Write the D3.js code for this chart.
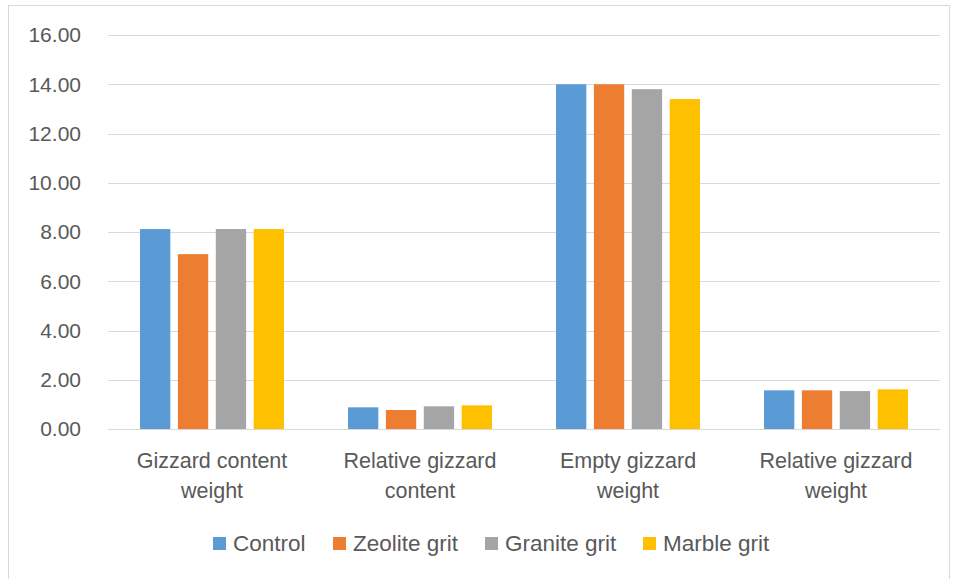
<!DOCTYPE html>
<html>
<head>
<meta charset="utf-8">
<script src="https://cdn.jsdelivr.net/npm/d3@7"></script>
<style>
  body { margin: 0; background: #fff; }
  text { font-family: "Liberation Sans", Arial, sans-serif; fill: #595959; }
</style>
</head>
<body>
<div id="chart"></div>
<script>
// data
var categories = [["Gizzard content", "weight"], ["Relative gizzard", "content"], ["Empty gizzard", "weight"], ["Relative gizzard", "weight"]];
var seriesNames = ["Control", "Zeolite grit", "Granite grit", "Marble grit"];
var control = [8.12, 0.88, 14.0, 1.57];
var zeolite = [7.10, 0.77, 14.0, 1.57];
var granite = [8.12, 0.92, 13.8, 1.54];
var marble = [8.12, 0.96, 13.4, 1.61];
var yTicks = [0, 2, 4, 6, 8, 10, 12, 14, 16];
var colors = ["#5b9bd5", "#ed7d31", "#a5a5a5", "#ffc000"];

var width = 958, height = 579;
var svg = d3.select("#chart").append("svg")
    .attr("width", width)
    .attr("height", height);

// outer frame
svg.append("rect")
    .attr("x", 8.5).attr("y", 5.5)
    .attr("width", 941).attr("height", 580)
    .attr("fill", "none")
    .attr("stroke", "#d9d9d9");

var plotLeft = 108, plotRight = 940, plotTop = 35, plotBottom = 429;

var x = d3.scaleBand()
    .domain(d3.range(categories.length))
    .range([plotLeft, plotRight]);

var y = d3.scaleLinear()
    .domain([0, 16])
    .range([plotBottom, plotTop]);

var inner = d3.scaleBand()
    .domain(d3.range(seriesNames.length))
    .range([32, 176])
    .paddingInner(0.2);

// gridlines
svg.append("g").selectAll("line")
  .data(yTicks)
  .enter().append("line")
    .attr("x1", plotLeft).attr("x2", plotRight)
    .attr("y1", function(d) { return Math.round(y(d)) + 0.5; })
    .attr("y2", function(d) { return Math.round(y(d)) + 0.5; })
    .attr("stroke", "#d9d9d9")
    .attr("stroke-width", 1);

// y labels
svg.append("g").selectAll("text")
  .data(yTicks)
  .enter().append("text")
    .attr("x", 81)
    .attr("y", function(d) { return y(d); })
    .attr("dy", "0.35em")
    .attr("text-anchor", "end")
    .style("font-size", "21px")
    .text(function(d) { return d3.format(".2f")(d); });

// bars
var allSeries = [control, zeolite, granite, marble];
var groups = svg.append("g").selectAll("g")
  .data(allSeries)
  .enter().append("g")
    .attr("fill", function(d, i) { return colors[i]; });

groups.each(function(vals, si) {
  d3.select(this).selectAll("rect")
    .data(vals)
    .enter().append("rect")
      .attr("x", function(d, ci) { return x(ci) + inner(si); })
      .attr("y", function(d) { return y(d); })
      .attr("width", inner.bandwidth())
      .attr("height", function(d) { return plotBottom - y(d); });
});

// x labels
var xl = svg.append("g").selectAll("text")
  .data(categories)
  .enter().append("text")
    .attr("x", function(d, i) { return x(i) + x.bandwidth() / 2; })
    .attr("y", 468)
    .attr("text-anchor", "middle")
    .style("font-size", "21.5px");

xl.selectAll("tspan")
  .data(function(d) { return d; })
  .enter().append("tspan")
    .attr("x", function() { return d3.select(this.parentNode).attr("x"); })
    .attr("dy", function(d, i) { return i == 0 ? 0 : 30; })
    .text(function(d) { return d; });

// legend
var legendX = [213, 333, 485, 643];
var leg = svg.append("g").selectAll("g")
  .data(seriesNames)
  .enter().append("g")
    .attr("transform", function(d, i) { return "translate(" + legendX[i] + ",537)"; });

leg.append("rect")
    .attr("width", 13).attr("height", 13)
    .attr("fill", function(d, i) { return colors[i]; });

leg.append("text")
    .attr("x", 20)
    .attr("y", 6.5)
    .attr("dy", "0.35em")
    .style("font-size", "22.5px")
    .text(function(d) { return d; });
</script>
</body>
</html>
